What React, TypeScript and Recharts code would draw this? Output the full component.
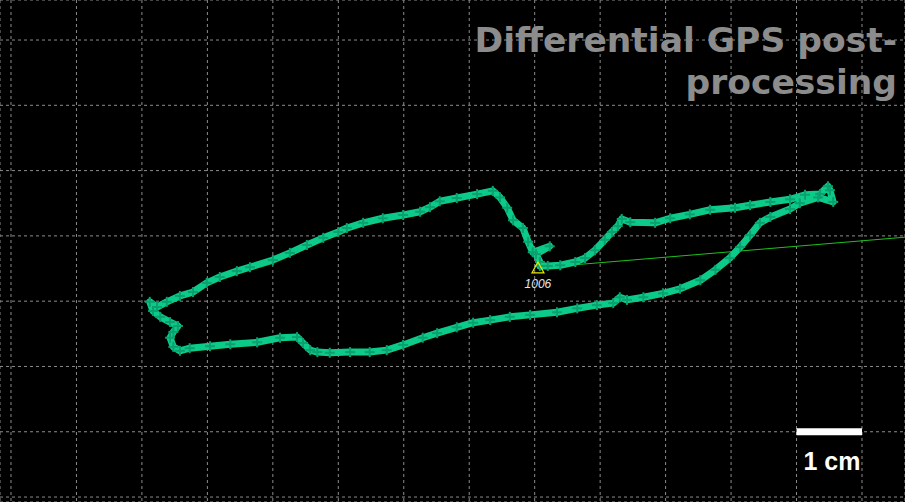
import React from 'react';
import {
  ScatterChart, Scatter, XAxis, YAxis, CartesianGrid, ReferenceLine,
} from 'recharts';

// track positions in cm (x east, y down from top grid line)
const trackX = [
  8.08, 8.2, 8.39, 8.62, 8.77, 8.92, 9.07, 9.18, 9.27, 9.33, 9.46, 9.84, 10.07, 10.37, 10.68,
  11.06, 11.29, 11.6, 11.9, 12.13, 12.36, 12.48, 12.51, 12.56, 12.33, 12.05, 11.9, 11.6, 11.44,
  11.29, 11.14, 10.98, 10.76, 10.53, 10.22, 9.96, 9.66, 9.41, 9.3, 9.2, 8.95, 8.65, 8.34, 7.93,
  7.62, 7.32, 7.06, 6.81, 6.51, 6.29, 5.99, 5.74, 5.48, 5.18, 4.87, 4.68, 4.57, 4.46, 4.37,
  4.11, 3.76, 3.35, 3.04, 2.73, 2.58, 2.48, 2.43, 2.48, 2.55, 2.43, 2.28, 2.17, 2.12, 2.23,
  2.38, 2.58, 2.78, 2.99, 3.19, 3.45, 3.65, 4.0, 4.26, 4.52, 4.77, 5.0, 5.13, 5.38, 5.68,
  5.99, 6.25, 6.4, 6.55, 6.81, 7.12, 7.36, 7.47, 7.58, 7.67, 7.82, 7.9, 7.97, 8.23, 8.02, 8.08,
];
const trackY = [
  3.46, 3.46, 3.45, 3.4, 3.34, 3.22, 3.06, 2.94, 2.85, 2.74, 2.79, 2.8, 2.73, 2.67, 2.6,
  2.57, 2.53, 2.48, 2.44, 2.37, 2.36, 2.24, 2.3, 2.48, 2.41, 2.5, 2.59, 2.71, 2.8,
  2.99, 3.17, 3.34, 3.52, 3.68, 3.81, 3.88, 3.94, 3.98, 3.94, 4.03, 4.06, 4.11, 4.17, 4.21,
  4.24, 4.29, 4.33, 4.4, 4.49, 4.56, 4.67, 4.75, 4.78, 4.78, 4.79, 4.78, 4.75, 4.64, 4.55,
  4.56, 4.63, 4.66, 4.69, 4.72, 4.76, 4.7, 4.56, 4.47, 4.38, 4.32, 4.24, 4.15, 4.01, 4.09,
  4.01, 3.92, 3.86, 3.72, 3.63, 3.54, 3.48, 3.37, 3.26, 3.14, 3.03, 2.94, 2.88, 2.8, 2.73,
  2.68, 2.63, 2.56, 2.47, 2.42, 2.36, 2.31, 2.41, 2.57, 2.76, 2.88, 3.09, 3.25, 3.16, 3.28, 3.4,
];

const stationName = '1006';
const stationX = [8.05];
const stationY = [3.49];

// azimuth ray leaving the station
const rayX = [8.05, 13.66];
const rayY = [3.49, 3.02];

const gridX = [0, 1, 2, 3, 4, 5, 6, 7, 8, 9, 10, 11, 12, 13];
const gridY = [0, 1, 2, 3, 4, 5, 6, 7];

const titleLines = ['Differential GPS post-', 'processing'];
const scaleLabel = '1 cm';
const scaleBar = [12, 13];

const track = trackX.map((x, i) => ({ x, y: trackY[i] }));
const station = stationX.map((x, i) => ({ x, y: stationY[i] }));
const ray = rayX.map((x, i) => ({ x, y: rayY[i] }));

const W = 905;
const H = 502;

const PlusDot = (props: any) => {
  const { cx, cy } = props;
  if (cx == null || cy == null) return null;
  return (
    <g stroke="#0aa070" strokeWidth={2}>
      <line x1={cx - 5} y1={cy} x2={cx + 5} y2={cy} />
      <line x1={cx} y1={cy - 5} x2={cx} y2={cy + 5} />
    </g>
  );
};

const StationMark = (props: any) => {
  const { cx, cy } = props;
  if (cx == null || cy == null) return null;
  return (
    <g>
      <polygon
        points={`${cx},${cy - 6} ${cx + 6},${cy + 5} ${cx - 6},${cy + 5}`}
        fill="none" stroke="#e8e800" strokeWidth={1.2}
      />
      <text x={cx} y={cy + 20} textAnchor="middle" fontSize={12} fontStyle="italic"
        fontFamily="'Liberation Sans', Arial, sans-serif" fill="#e2e6ec">
        {stationName}
      </text>
    </g>
  );
};

export default function App() {
  return (
    <div style={{ position: 'absolute', left: 0, top: 0, width: W, height: H, background: '#000' }}>
      <ScatterChart width={W} height={H} margin={{ top: 0, right: 0, bottom: 0, left: 0 }}>
        <XAxis type="number" dataKey="x" hide domain={[-0.168, 13.657]} ticks={gridX}
          interval={0} allowDataOverflow />
        <YAxis type="number" dataKey="y" hide reversed domain={[-0.613, 7.076]} ticks={gridY}
          interval={0} allowDataOverflow />
        <CartesianGrid stroke="#8c8c8c" strokeDasharray="3 3" />
        <Scatter data={ray} line={{ stroke: '#1fbf1f', strokeWidth: 1 }} shape={() => null}
          isAnimationActive={false} />
        <Scatter data={track}
          line={{ stroke: '#0ccb88', strokeWidth: 7, strokeLinejoin: 'round', strokeLinecap: 'round' }}
          lineType="joint" shape={<PlusDot />} isAnimationActive={false} />
        <Scatter data={station} shape={<StationMark />} isAnimationActive={false} />
        <ReferenceLine segment={[{ x: scaleBar[0], y: 6 }, { x: scaleBar[1], y: 6 }]}
          stroke="#fff" strokeWidth={7} />
      </ScatterChart>
      <svg width={W} height={H} style={{ position: 'absolute', left: 0, top: 0, pointerEvents: 'none' }}>
        <text textAnchor="end" fontFamily="'DejaVu Sans', sans-serif" fontWeight="bold"
          fontSize={34.5} fill="#8c8c8c">
          <tspan x={897} y={52}>{titleLines[0]}</tspan>
          <tspan x={897} y={94}>{titleLines[1]}</tspan>
        </text>
        <text x={832} y={470} textAnchor="middle" fontFamily="'Liberation Sans', Arial, sans-serif"
          fontWeight="bold" fontSize={25} fill="#fff">
          {scaleLabel}
        </text>
      </svg>
    </div>
  );
}
